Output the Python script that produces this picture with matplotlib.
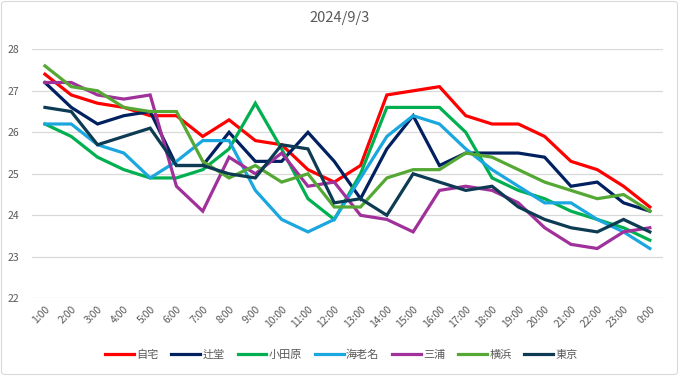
import matplotlib
matplotlib.use("Agg")
import matplotlib.pyplot as plt
from matplotlib.patches import FancyBboxPatch

plt.rcParams['font.family'] = ['Noto Sans CJK JP', 'DejaVu Sans']

hours = ["1:00", "2:00", "3:00", "4:00", "5:00", "6:00", "7:00", "8:00", "9:00", "10:00",
         "11:00", "12:00", "13:00", "14:00", "15:00", "16:00", "17:00", "18:00", "19:00",
         "20:00", "21:00", "22:00", "23:00", "0:00"]

jitaku = [27.4, 26.9, 26.7, 26.6, 26.4, 26.4, 25.9, 26.3, 25.8, 25.7, 25.1, 24.8,
          25.2, 26.9, 27.0, 27.1, 26.4, 26.2, 26.2, 25.9, 25.3, 25.1, 24.7, 24.2]
tsujido = [27.2, 26.6, 26.2, 26.4, 26.5, 25.2, 25.2, 26.0, 25.3, 25.3, 26.0, 25.3,
           24.4, 25.6, 26.4, 25.2, 25.5, 25.5, 25.5, 25.4, 24.7, 24.8, 24.3, 24.1]
odawara = [26.2, 25.9, 25.4, 25.1, 24.9, 24.9, 25.1, 25.6, 26.7, 25.6, 24.4, 23.9,
           25.0, 26.6, 26.6, 26.6, 26.0, 24.9, 24.6, 24.4, 24.1, 23.9, 23.7, 23.4]
ebina = [26.2, 26.2, 25.7, 25.5, 24.9, 25.3, 25.8, 25.8, 24.6, 23.9, 23.6, 23.9,
         24.9, 25.9, 26.4, 26.2, 25.6, 25.1, 24.7, 24.3, 24.3, 23.9, 23.6, 23.2]
miura = [27.2, 27.2, 26.9, 26.8, 26.9, 24.7, 24.1, 25.4, 25.0, 25.5, 24.7, 24.8,
         24.0, 23.9, 23.6, 24.6, 24.7, 24.6, 24.3, 23.7, 23.3, 23.2, 23.6, 23.7]
yokohama = [27.6, 27.1, 27.0, 26.6, 26.5, 26.5, 25.3, 24.9, 25.2, 24.8, 25.0, 24.2,
            24.2, 24.9, 25.1, 25.1, 25.5, 25.4, 25.1, 24.8, 24.6, 24.4, 24.5, 24.1]
tokyo = [26.6, 26.5, 25.7, 25.9, 26.1, 25.2, 25.2, 25.0, 24.9, 25.7, 25.6, 24.3,
         24.4, 24.0, 25.0, 24.8, 24.6, 24.7, 24.2, 23.9, 23.7, 23.6, 23.9, 23.6]

series_names = ["自宅", "辻堂", "小田原", "海老名", "三浦", "横浜", "東京"]
series_values = [jitaku, tsujido, odawara, ebina, miura, yokohama, tokyo]
colors = ["#FF0000", "#002060", "#00B050", "#1AA7E0", "#A0309A", "#55A834", "#0D3B54"]
y_ticks = [22, 23, 24, 25, 26, 27, 28]

W, H = 679, 376
fig = plt.figure(figsize=(W / 100, H / 100), dpi=100)
fig.patch.set_facecolor("white")
border = FancyBboxPatch((1.5 / W, 1.5 / H), 1 - 3 / W, 1 - 3 / H,
                        boxstyle="round,pad=0,rounding_size=0.006",
                        transform=fig.transFigure, facecolor="none",
                        edgecolor="#D9D9D9", linewidth=0.8)
fig.patches.append(border)

left, right = 31.8 / W, 663 / W
top, bottom = 1 - 49.3 / H, 1 - 298.3 / H
ax = fig.add_axes([left, bottom, right - left, top - bottom])

x = list(range(len(hours)))
for name, vals, c in zip(series_names, series_values, colors):
    ax.plot(x, vals, color=c, linewidth=2.3, label=name, solid_joinstyle="miter")

ax.set_xlim(-0.5, len(hours) - 0.5)
ax.set_ylim(22, 28)
ax.set_yticks(y_ticks)
ax.set_yticklabels([str(v) for v in y_ticks])
ax.set_xticks(x)
ax.set_xticklabels(hours, rotation=45, ha="right", rotation_mode="anchor")
ax.tick_params(axis="both", length=0, labelsize=7.5, colors="#595959")
ax.tick_params(axis="y", pad=9)
ax.tick_params(axis="x", pad=4)
ax.grid(axis="y", color="#D9D9D9", linewidth=0.9)
ax.set_axisbelow(True)
for s in ax.spines.values():
    s.set_visible(False)

fig.text(0.5, 1 - 18 / H, "2024/9/3", ha="center", va="center",
         fontsize=10.5, color="#595959")

fig.legend(loc="center", bbox_to_anchor=(0.503, 1 - 355 / H), ncol=7, frameon=False,
           fontsize=8, handlelength=2.6, handletextpad=0.2, columnspacing=1.15,
           labelcolor="#595959")

fig.savefig("out.png", dpi=100)
